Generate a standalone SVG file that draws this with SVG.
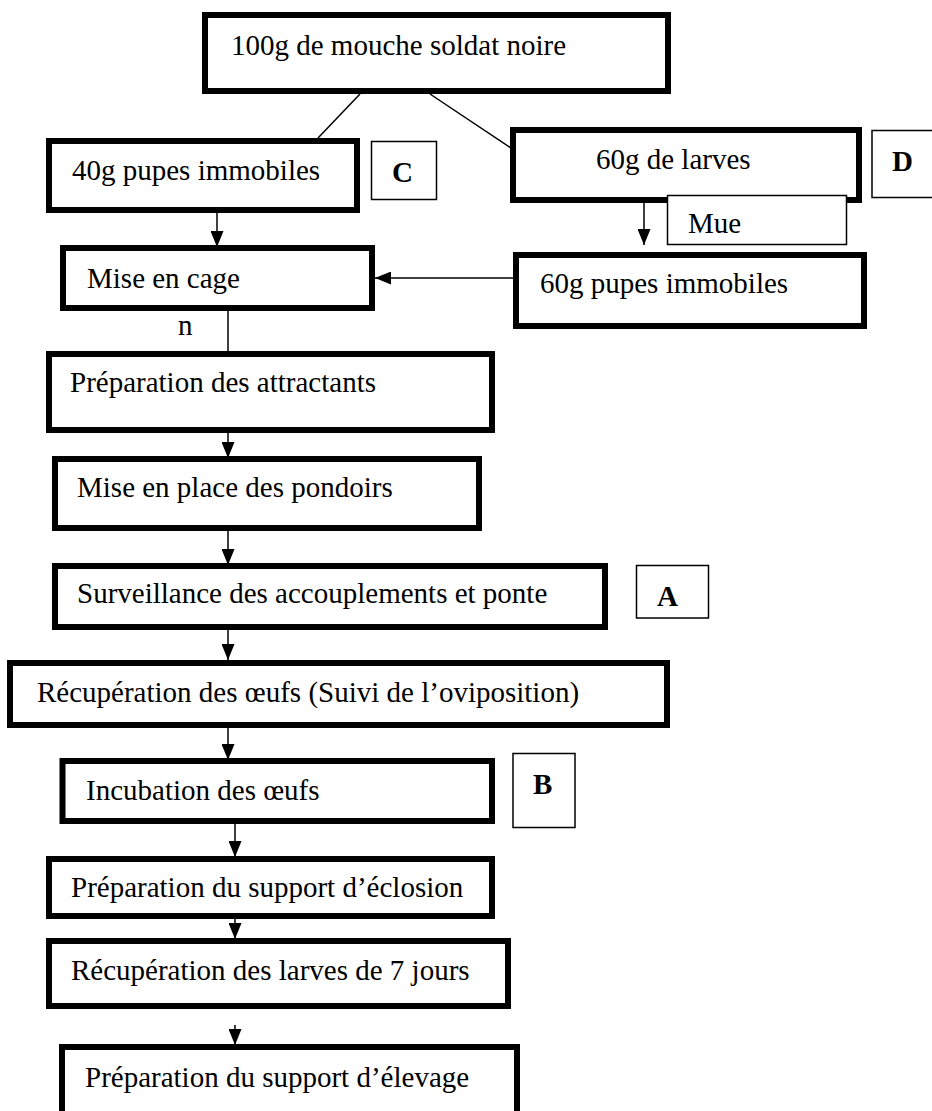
<svg xmlns="http://www.w3.org/2000/svg" width="932" height="1111" viewBox="0 0 932 1111">
<defs>
<marker id="ah" viewBox="0 0 16 13" refX="16" refY="6.5" markerWidth="16" markerHeight="13" markerUnits="userSpaceOnUse" orient="auto">
<path d="M0,0 L16,6.5 L0,13 Z" fill="#000"/>
</marker>
</defs>
<style>
.box{fill:#fff;stroke:#000;stroke-width:6}
.thin{fill:#fff;stroke:#000;stroke-width:1.5}
.t{font-family:"Liberation Serif","Times New Roman",serif;font-size:29px;fill:#000}
.b{font-family:"Liberation Serif","Times New Roman",serif;font-size:29px;font-weight:bold;fill:#000}
.c{stroke:#000;stroke-width:1.5;fill:none}
.a{stroke:#000;stroke-width:1.5;fill:none;marker-end:url(#ah)}
</style>
<rect width="932" height="1111" fill="#fff"/>
<g id="connectors">
<line class="c" x1="360" y1="94" x2="318" y2="138"/>
<line class="c" x1="430" y1="94" x2="511" y2="148"/>
<line class="a" x1="217" y1="203" x2="217" y2="247"/>
<line class="a" x1="644" y1="186" x2="644" y2="245"/>
<line class="a" x1="516" y1="278" x2="375" y2="278"/>
<line class="c" x1="228" y1="302" x2="228" y2="352"/>
<line class="a" x1="228" y1="423" x2="228" y2="458"/>
<line class="a" x1="228" y1="521" x2="228" y2="565"/>
<line class="a" x1="228" y1="613" x2="228" y2="660"/>
<line class="a" x1="228" y1="720" x2="228" y2="760"/>
<line class="a" x1="235" y1="824" x2="235" y2="857"/>
<line class="a" x1="235" y1="919" x2="235" y2="939"/>
<line class="a" x1="235" y1="1025" x2="235" y2="1045"/>
</g>
<g id="n-top"><rect class="box" x="205" y="15" width="463" height="76"/><text class="t" x="231" y="55">100g de mouche soldat noire</text></g>
<g id="n-40g"><rect class="box" x="49" y="141" width="308" height="69"/><text class="t" x="72" y="180">40g pupes immobiles</text></g>
<g id="n-C"><rect class="thin" x="371.5" y="141.5" width="65" height="58"/><text class="b" x="392" y="182">C</text></g>
<g id="n-larves"><rect class="box" x="513" y="130" width="346" height="70"/><text class="t" x="596" y="169">60g de larves</text></g>
<g id="n-D"><rect class="thin" x="872" y="130.5" width="70" height="67"/><text class="b" x="892" y="171">D</text></g>
<g id="n-mue"><rect class="thin" x="667.5" y="195.5" width="179" height="49"/><text class="t" x="688" y="233">Mue</text></g>
<g id="n-cage"><rect class="box" x="63" y="248" width="309" height="60"/><text class="t" x="87" y="288">Mise en cage</text></g>
<g id="n-60g"><rect class="box" x="516" y="255" width="348" height="71"/><text class="t" x="540" y="293">60g pupes immobiles</text></g>
<text class="t" x="178" y="335">n</text>
<g id="n-attr"><rect class="box" x="49" y="354" width="443" height="76"/><text class="t" x="70" y="392">Préparation des attractants</text></g>
<g id="n-pond"><rect class="box" x="55" y="459" width="424" height="69"/><text class="t" x="77" y="497">Mise en place des pondoirs</text></g>
<g id="n-surv"><rect class="box" x="55" y="566" width="550" height="61"/><text class="t" x="77" y="603">Surveillance des accouplements et ponte</text></g>
<g id="n-A"><rect class="thin" x="636.5" y="565.5" width="72" height="52.5"/><text class="b" x="657" y="606">A</text></g>
<g id="n-oeufs"><rect class="box" x="10" y="663" width="657" height="62"/><text class="t" x="37" y="702">Récupération des œufs (Suivi de l’oviposition)</text></g>
<g id="n-incub"><rect class="box" x="62.5" y="761" width="429.5" height="60"/><text class="t" x="86" y="800">Incubation des œufs</text></g>
<g id="n-B"><rect class="thin" x="513" y="753.5" width="62" height="74"/><text class="b" x="533" y="794">B</text></g>
<g id="n-eclos"><rect class="box" x="49" y="859" width="443" height="57"/><text class="t" x="71" y="897">Préparation du support d’éclosion</text></g>
<g id="n-larves7"><rect class="box" x="49" y="941" width="459" height="65"/><text class="t" x="71" y="980">Récupération des larves de 7 jours</text></g>
<g id="n-elev"><rect class="box" x="62" y="1047" width="455" height="70"/><text class="t" x="85" y="1087">Préparation du support d’élevage</text></g>
</svg>
